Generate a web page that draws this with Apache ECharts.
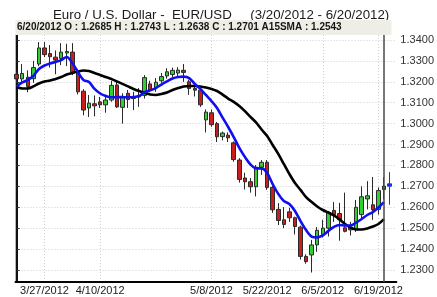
<!DOCTYPE html>
<html>
<head>
<meta charset="utf-8">
<script src="https://cdn.jsdelivr.net/npm/echarts@6/dist/echarts.min.js"></script>
<style>
html,body{margin:0;padding:0;background:#fff;}
#chart{width:437px;height:297px;}
</style>
</head>
<body>
<div id="chart"></div>
<script>
const dates = ['3/20/2012','3/21/2012','3/22/2012','3/23/2012','3/26/2012','3/27/2012','3/28/2012','3/29/2012','3/30/2012',
'4/2/2012','4/3/2012','4/4/2012','4/5/2012','4/6/2012','4/9/2012','4/10/2012','4/11/2012','4/12/2012','4/13/2012',
'4/16/2012','4/17/2012','4/18/2012','4/19/2012','4/20/2012','4/23/2012','4/24/2012','4/25/2012','4/26/2012','4/27/2012','4/30/2012',
'5/1/2012','5/2/2012','5/3/2012','5/4/2012','5/7/2012','5/8/2012','5/9/2012','5/10/2012','5/11/2012',
'5/14/2012','5/15/2012','5/16/2012','5/17/2012','5/18/2012','5/21/2012','5/22/2012','5/23/2012','5/24/2012','5/25/2012',
'5/28/2012','5/29/2012','5/30/2012','5/31/2012','6/1/2012','6/4/2012','6/5/2012','6/6/2012','6/7/2012','6/8/2012',
'6/11/2012','6/12/2012','6/13/2012','6/14/2012','6/15/2012','6/18/2012','6/19/2012','6/20/2012','6/21/2012'];

const opens  = [1.3236,1.3214,1.3222,1.3215,1.3285,1.3362,1.3335,1.3318,1.3312,1.3338,1.3342,1.3245,1.3155,1.3075,1.3095,1.3104,1.3090,1.3113,1.3185,1.3078,1.3145,1.3120,1.3128,1.3135,1.3190,1.3172,1.3205,1.3228,1.3235,1.3242,1.3255,1.3200,1.3168,1.3160,1.3018,1.3052,1.3000,1.2938,1.2945,1.2908,1.2826,1.2740,1.2722,1.2698,1.2792,1.2815,1.2695,1.2590,1.2540,1.2578,1.2550,1.2505,1.2365,1.2372,1.2420,1.2470,1.2500,1.2585,1.2570,1.2502,1.2505,1.2495,1.2565,1.2640,1.2612,1.2590,1.2685,1.2701];
const closes = [1.3214,1.3240,1.3178,1.3268,1.3362,1.3330,1.3320,1.3304,1.3342,1.3345,1.3245,1.3152,1.3065,1.3098,1.3085,1.3090,1.3113,1.3183,1.3080,1.3125,1.3115,1.3128,1.3135,1.3220,1.3160,1.3198,1.3225,1.3248,1.3255,1.3256,1.3245,1.3168,1.3160,1.3090,1.3055,1.2995,1.2937,1.2955,1.2932,1.2828,1.2733,1.2722,1.2698,1.2792,1.2815,1.2695,1.2588,1.2537,1.2518,1.2550,1.2508,1.2365,1.2340,1.2420,1.2490,1.2500,1.2575,1.2565,1.2540,1.2485,1.2492,1.2600,1.2650,1.2655,1.2588,1.2680,1.2701,1.2712];
const lows   = [1.3195,1.3200,1.3150,1.3195,1.3275,1.3318,1.3268,1.3236,1.3280,1.3275,1.3232,1.3140,1.3040,1.3032,1.3035,1.3075,1.3052,1.3105,1.3075,1.3000,1.3075,1.3065,1.3080,1.3120,1.3150,1.3152,1.3195,1.3215,1.3222,1.3228,1.3200,1.3138,1.3130,1.3080,1.2958,1.2985,1.2912,1.2920,1.2912,1.2818,1.2718,1.2685,1.2670,1.2652,1.2755,1.2683,1.2573,1.2515,1.2500,1.2530,1.2470,1.2350,1.2330,1.2288,1.2387,1.2455,1.2460,1.2530,1.2440,1.2480,1.2465,1.2482,1.2548,1.2590,1.2540,1.2565,1.2638,1.2612];
const highs  = [1.3250,1.3285,1.3255,1.3300,1.3390,1.3390,1.3376,1.3350,1.3385,1.3382,1.3385,1.3262,1.3165,1.3137,1.3135,1.3128,1.3138,1.3205,1.3200,1.3145,1.3161,1.3152,1.3170,1.3232,1.3205,1.3218,1.3242,1.3265,1.3268,1.3270,1.3285,1.3210,1.3185,1.3170,1.3068,1.3068,1.3008,1.2962,1.2958,1.2915,1.2835,1.2765,1.2740,1.2802,1.2826,1.2826,1.2702,1.2620,1.2601,1.2597,1.2555,1.2512,1.2375,1.2444,1.2505,1.2540,1.2582,1.2625,1.2621,1.2670,1.2530,1.2635,1.2700,1.2725,1.2745,1.2695,1.2743,1.2768];

const fastAvg = [1.3178,1.3197,1.3209,1.3228,1.3261,1.3278,1.3288,1.3295,1.3304,1.3319,1.3290,1.3247,1.3209,1.3199,1.3166,1.3144,1.3132,1.3126,1.3127,1.3127,1.3126,1.3127,1.3132,1.3151,1.3159,1.3170,1.3187,1.3202,1.3216,1.3223,1.3225,1.3218,1.3190,1.3166,1.3137,1.3108,1.3075,1.3029,1.2984,1.2936,1.2884,1.2841,1.2805,1.2786,1.2786,1.2764,1.2711,1.2664,1.2630,1.2616,1.2582,1.2534,1.2491,1.2460,1.2456,1.2465,1.2487,1.2506,1.2515,1.2513,1.2513,1.2527,1.2544,1.2563,1.2577,1.2599,1.2625];
const sma15 = [1.3175,1.3168,1.3168,1.3178,1.3192,1.3202,1.3206,1.3214,1.3223,1.3235,1.3242,1.3249,1.3254,1.3252,1.3242,1.3233,1.3223,1.3214,1.3202,1.3190,1.3178,1.3166,1.3156,1.3147,1.3139,1.3137,1.3142,1.3149,1.3161,1.3170,1.3178,1.3180,1.3180,1.3178,1.3173,1.3166,1.3156,1.3139,1.3120,1.3104,1.3084,1.3060,1.3032,1.3006,1.2972,1.2941,1.2898,1.2855,1.2807,1.2759,1.2716,1.2683,1.2649,1.2625,1.2604,1.2587,1.2575,1.2561,1.2542,1.2520,1.2503,1.2494,1.2494,1.2499,1.2508,1.2520,1.2543];

const yTicks = [1.23,1.24,1.25,1.26,1.27,1.28,1.29,1.30,1.31,1.32,1.33,1.34];
const xLabelIdx = [5,15,35,45,55,65];
const cursorIdx = 66;

const titleText = 'Euro / U.S. Dollar -  EUR/USD     (3/20/2012 - 6/20/2012)';
const headerText = '6/20/2012 O : 1.2685 H : 1.2743 L : 1.2638 C : 1.2701 A15SMA : 1.2543';

const lastIdx = dates.length - 1;
const candleData = dates.map((d, i) => {
  const item = { value: [i, opens[i], closes[i], lows[i], highs[i]] };
  if (i === lastIdx) {
    item.itemStyle = { color: '#1f2fe0', color0: '#1f2fe0', borderColor: '#1f2fe0', borderColor0: '#1f2fe0' };
  }
  return item;
});
const fastData = fastAvg.map((v, i) => [i, v]);
const smaData = sma15.map((v, i) => [i, v]);

const FONT = '"Liberation Sans Narrow", "Liberation Sans", Arial, sans-serif';
const yMin = 1.22426, yMax = 1.34239;

const chart = echarts.init(document.getElementById('chart'), null, { renderer: 'canvas' });
chart.setOption({
  animation: false,
  backgroundColor: '#ffffff',
  title: {
    text: titleText,
    left: 48, top: 4,
    textStyle: { fontSize: 13.3, fontWeight: 'normal', color: '#1a1a1a', fontFamily: '"Liberation Sans", Arial, sans-serif' }
  },
  graphic: [
    { type: 'rect', left: 15.5, top: 20, shape: { width: 376, height: 15 }, style: { fill: '#efeee6' }, z: 10 },
    { type: 'text', left: 17, top: 22.5, style: { text: headerText, font: 'bold 10px "Liberation Sans", Arial, sans-serif', fill: '#151515' }, z: 11 }
  ],
  grid: { left: 15.5, right: 33.5, top: 35, bottom: 15, containLabel: false },
  xAxis: {
    type: 'value', min: -0.21, max: 68.22,
    axisLine: { show: true, lineStyle: { color: '#000', width: 2 } },
    axisTick: { show: false, customValues: xLabelIdx },
    axisLabel: { customValues: xLabelIdx, margin: 3, color: '#1a1a1a', fontSize: 11, fontFamily: FONT,
      formatter: v => dates[Math.round(v)] || '' },
    splitLine: { show: true, lineStyle: { color: '#cfcfcf', type: [1, 2], width: 1 } }
  },
  yAxis: [
    {
      type: 'value', position: 'right', min: yMin, max: yMax,
      axisLine: { show: true, lineStyle: { color: '#111', width: 2 } },
      axisTick: { show: true, inside: false, length: 3, customValues: yTicks, lineStyle: { color: '#333' } },
      axisLabel: { customValues: yTicks, margin: 4, color: '#333', fontSize: 11, fontFamily: FONT,
        formatter: v => v.toFixed(4) },
      splitLine: { show: true, lineStyle: { color: '#cfcfcf', type: [1, 2], width: 1 } }
    },
    {
      type: 'value', position: 'left', min: yMin, max: yMax,
      axisLine: { show: true, lineStyle: { color: '#b5b5b5', width: 1 } },
      axisTick: { show: false }, axisLabel: { show: false }, splitLine: { show: false }
    }
  ],
  series: [
    {
      type: 'candlestick',
      data: candleData,
      barWidth: 4,
      itemStyle: { color: '#2fd02f', color0: '#c81e1e', borderColor: '#2b2b2b', borderColor0: '#2b2b2b', borderWidth: 1 },
      markLine: {
        silent: true, symbol: 'none', label: { show: false },
        lineStyle: { color: '#4a4a4a', width: 1.5, type: 'solid' },
        data: [{ xAxis: cursorIdx }]
      },
      z: 2
    },
    {
      type: 'line', data: smaData, showSymbol: false, smooth: 0.3,
      lineStyle: { color: '#000000', width: 2.6 }, z: 3
    },
    {
      type: 'line', data: fastData, showSymbol: false, smooth: 0.3,
      lineStyle: { color: '#1010ee', width: 2.6 }, z: 4
    }
  ]
});
</script>
</body>
</html>
